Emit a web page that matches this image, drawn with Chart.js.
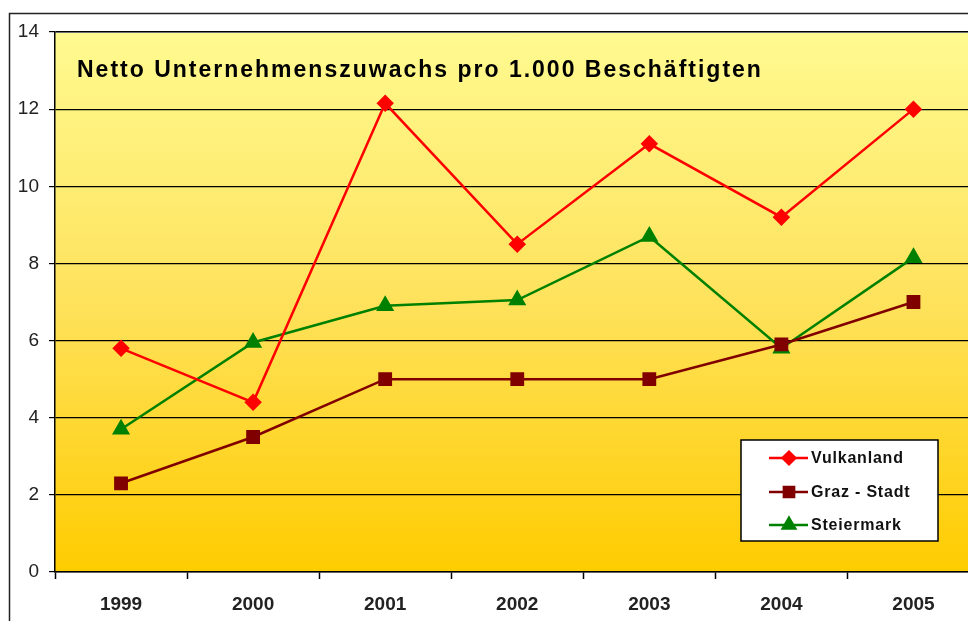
<!DOCTYPE html>
<html>
<head>
<meta charset="utf-8">
<script src="https://cdn.jsdelivr.net/npm/chart.js@4.4.1/dist/chart.umd.min.js"></script>
<style>
  html, body { margin: 0; padding: 0; background: #fff; overflow: hidden; }
  #wrap { position: relative; width: 990px; height: 621px; }
</style>
</head>
<body>
<div id="wrap"><canvas id="chart" width="990" height="621"></canvas></div>
<script>
const years = ['1999', '2000', '2001', '2002', '2003', '2004', '2005'];
const vulkanland = [5.8, 4.4, 12.15, 8.5, 11.1, 9.2, 12.0];
const grazStadt = [2.3, 3.5, 5.0, 5.0, 5.0, 5.9, 7.0];
const steiermark = [3.7, 5.95, 6.9, 7.05, 8.7, 5.8, 8.15];
const chartTitle = 'Netto Unternehmenszuwachs pro 1.000 Beschäftigten';

const FONT = '"Liberation Sans", Arial, sans-serif';

// gradient plot background + outer frame
const backgroundPlugin = {
  id: 'plotBackground',
  beforeDraw(chart) {
    const { ctx, chartArea: a } = chart;
    ctx.save();
    ctx.fillStyle = '#fff';
    ctx.fillRect(0, 0, chart.width, chart.height);
    const g = ctx.createLinearGradient(0, a.top, 0, a.bottom);
    g.addColorStop(0, '#FFFA90');
    g.addColorStop(0.5, '#FEE25C');
    g.addColorStop(1, '#FFCC00');
    ctx.fillStyle = g;
    ctx.fillRect(a.left, a.top, a.right - a.left, a.bottom - a.top);
    // outer frame
    ctx.strokeStyle = '#222';
    ctx.lineWidth = 1.5;
    ctx.beginPath();
    ctx.moveTo(9.5, chart.height + 2);
    ctx.lineTo(9.5, 13.5);
    ctx.lineTo(chart.width + 2, 13.5);
    ctx.stroke();
    // top border of plot area
    ctx.strokeStyle = '#999';
    ctx.lineWidth = 1;
    ctx.beginPath();
    ctx.moveTo(a.left, a.top + 0.5);
    ctx.lineTo(a.right, a.top + 0.5);
    ctx.stroke();
    ctx.restore();
  }
};

// title inside plot and boxed legend
const overlayPlugin = {
  id: 'overlay',
  afterDraw(chart) {
    const { ctx, chartArea: a } = chart;
    ctx.save();
    ctx.fillStyle = '#000';
    ctx.letterSpacing = '2px';
    ctx.font = 'bold 23px ' + FONT;
    ctx.textBaseline = 'middle';
    ctx.textAlign = 'left';
    ctx.fillText(chartTitle, a.left + 22, 71);

    // legend box
    const bx = 741, by = 440, bw = 197, bh = 101;
    ctx.fillStyle = '#fff';
    ctx.fillRect(bx, by, bw, bh);
    ctx.strokeStyle = '#000';
    ctx.lineWidth = 1.5;
    ctx.strokeRect(bx, by, bw, bh);
    const rows = [458, 492, 525];
    ctx.letterSpacing = '0.8px';
    ctx.font = 'bold 16px ' + FONT;
    chart.data.datasets.forEach((ds, i) => {
      const y = rows[i];
      ctx.strokeStyle = ds.borderColor;
      ctx.lineWidth = 2.5;
      ctx.beginPath();
      ctx.moveTo(769, y);
      ctx.lineTo(808, y);
      ctx.stroke();
      Chart.helpers.drawPoint(ctx, {
        pointStyle: ds.pointStyle,
        radius: ds.pointRadius * 0.9,
        rotation: 0,
        borderWidth: 1
      }, 789, y);
      ctx.fillStyle = ds.pointBackgroundColor;
      ctx.fill();
      ctx.fillStyle = '#111';
      ctx.fillText(ds.label, 811, y + 1);
    });
    ctx.restore();
  }
};

const canvas = document.getElementById('chart');
canvas.getContext('2d').letterSpacing = '1px';

new Chart(canvas, {
  type: 'line',
  data: {
    labels: years,
    datasets: [
      {
        label: 'Vulkanland',
        data: vulkanland,
        borderColor: '#FF0000',
        backgroundColor: '#FF0000',
        pointBackgroundColor: '#FF0000',
        pointBorderColor: '#FF0000',
        pointStyle: 'rectRot',
        pointRadius: 7,
        borderWidth: 2.5
      },
      {
        label: 'Graz - Stadt',
        data: grazStadt,
        borderColor: '#800000',
        backgroundColor: '#800000',
        pointBackgroundColor: '#800000',
        pointBorderColor: '#800000',
        pointStyle: 'rect',
        pointRadius: 8,
        borderWidth: 2.5
      },
      {
        label: 'Steiermark',
        data: steiermark,
        borderColor: '#008000',
        backgroundColor: '#008000',
        pointBackgroundColor: '#008000',
        pointBorderColor: '#008000',
        pointStyle: 'triangle',
        pointRadius: 8,
        borderWidth: 2.5
      }
    ]
  },
  options: {
    responsive: false,
    animation: false,
    layout: { padding: { left: 0, top: 32, right: 0, bottom: 0 } },
    plugins: {
      legend: { display: false },
      tooltip: { enabled: false }
    },
    scales: {
      x: {
        offset: true,
        grid: { offset: true, drawOnChartArea: false, tickLength: 7, tickColor: '#000', tickWidth: 1.5 },
        border: { color: '#000', width: 1.5 },
        ticks: {
          color: '#222',
          padding: 14,
          font: { family: FONT, size: 19, weight: 'bold' }
        },
        afterFit(scale) { scale.height = 49; }
      },
      y: {
        min: 0,
        max: 14,
        grid: { color: '#000', lineWidth: 1.2, tickLength: 6, tickColor: '#000' },
        border: { color: '#000', width: 1.5 },
        ticks: {
          stepSize: 2,
          color: '#222',
          padding: 10,
          font: { family: FONT, size: 19 }
        },
        afterFit(scale) { scale.width = 55; }
      }
    }
  },
  plugins: [backgroundPlugin, overlayPlugin]
});
</script>
</body>
</html>
